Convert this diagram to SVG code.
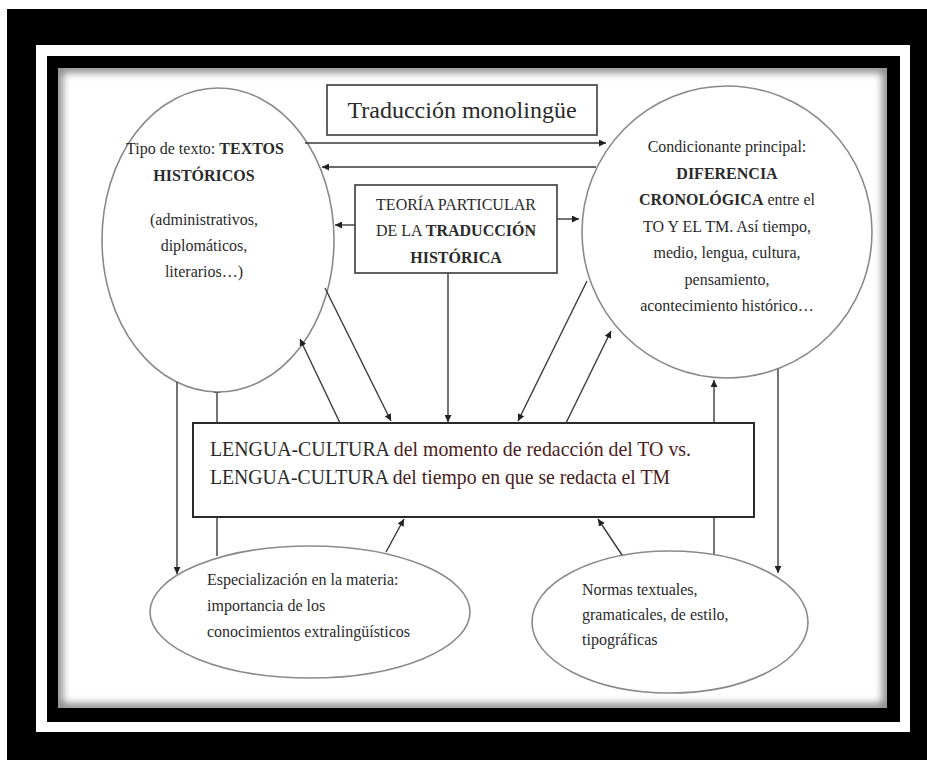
<svg xmlns="http://www.w3.org/2000/svg" width="927" height="760" viewBox="0 0 927 760">
<defs>
<style>
text{font-family:"Liberation Serif","Times New Roman",serif;fill:#2a2a2a}
.c{text-anchor:middle}
.b{font-weight:bold}
.node{fill:#fff;stroke:#8a8a8a;stroke-width:1.6}
.box{fill:#fff;stroke:#3a3a3a;stroke-width:1.6}
.con{stroke:#3a3a3a;stroke-width:1.4;fill:none;marker-end:url(#ah)}
.t16{font-size:16px}
.red{fill:#4a1c1c}
</style>
<marker id="ah" viewBox="0 0 10 10" refX="10" refY="5" markerWidth="7" markerHeight="7" markerUnits="userSpaceOnUse" orient="auto">
<path d="M0,0 L10,5 L0,10 z" fill="#222"/>
</marker>
<clipPath id="inner"><rect x="58" y="68" width="829" height="640"/></clipPath>
<filter id="blur" x="-5%" y="-5%" width="110%" height="110%"><feGaussianBlur stdDeviation="4"/></filter>
</defs>
<g id="frame">
<rect x="0" y="0" width="927" height="760" fill="#fff"/>
<rect x="7" y="9" width="920" height="751" fill="#000"/>
<rect x="36" y="45" width="874" height="687" fill="#fff"/>
<rect x="47" y="56" width="853" height="666" fill="#000"/>
<rect x="58" y="68" width="829" height="640" fill="#fff"/>
<g clip-path="url(#inner)"><rect x="58" y="68" width="829" height="640" fill="none" stroke="#000" stroke-width="8" filter="url(#blur)" opacity="0.55"/></g>
</g>
<g id="connectors-behind">
<line class="con" x1="217" y1="556" x2="217" y2="386"/>
<line class="con" x1="714" y1="554" x2="714" y2="380"/>
</g>
<g id="n-title">
<rect class="box" x="327" y="85" width="270" height="50"/>
<text class="c" x="462" y="118" font-size="24">Traducción monolingüe</text>
</g>
<g id="n-left">
<ellipse class="node" cx="218" cy="240" rx="116" ry="152"/>
<text class="c t16" x="205" y="154">Tipo de texto: <tspan class="b">TEXTOS</tspan></text>
<text class="c t16 b" x="204" y="181">HISTÓRICOS</text>
<text class="c t16" x="204" y="225">(administrativos,</text>
<text class="c t16" x="204" y="251">diplomáticos,</text>
<text class="c t16" x="204" y="277">literarios…)</text>
</g>
<g id="n-right">
<ellipse class="node" cx="727" cy="232" rx="145" ry="146"/>
<text class="c t16" x="727" y="152">Condicionante principal:</text>
<text class="c t16 b" x="727" y="179">DIFERENCIA</text>
<text class="c t16" x="727" y="205"><tspan class="b">CRONOLÓGICA</tspan> entre el</text>
<text class="c t16" x="727" y="232">TO Y EL TM. Así tiempo,</text>
<text class="c t16" x="727" y="258">medio, lengua, cultura,</text>
<text class="c t16" x="727" y="285">pensamiento,</text>
<text class="c t16" x="727" y="311">acontecimiento histórico…</text>
</g>
<g id="n-teoria">
<rect class="box" x="355" y="185" width="202" height="88"/>
<text class="c t16" x="456" y="210">TEORÍA PARTICULAR</text>
<text class="c t16" x="456" y="236">DE LA <tspan class="b">TRADUCCIÓN</tspan></text>
<text class="c t16 b" x="456" y="263">HISTÓRICA</text>
</g>
<g id="n-main">
<rect x="193" y="423" width="561" height="94" fill="#fff" stroke="#2a2a2a" stroke-width="2"/>
<text x="210" y="456" font-size="21" textLength="481" lengthAdjust="spacingAndGlyphs">LENGUA-CULTURA <tspan class="red">del momento de redacción del TO vs.</tspan></text>
<text x="210" y="484" font-size="21" textLength="460" lengthAdjust="spacingAndGlyphs">LENGUA-CULTURA <tspan class="red">del tiempo en que se redacta el TM</tspan></text>
</g>
<g id="n-espec">
<ellipse class="node" cx="310" cy="612" rx="160" ry="66"/>
<text class="t16" x="207" y="585">Especialización en la materia:</text>
<text class="t16" x="207" y="611">importancia de los</text>
<text class="t16" x="207" y="637">conocimientos extralingüísticos</text>
</g>
<g id="n-normas">
<ellipse class="node" cx="670" cy="622" rx="138" ry="71"/>
<text class="t16" x="582" y="595">Normas textuales,</text>
<text class="t16" x="582" y="620">gramaticales, de estilo,</text>
<text class="t16" x="582" y="645">tipográficas</text>
</g>
<g id="connectors">
<line class="con" x1="305" y1="143" x2="606" y2="143"/>
<line class="con" x1="596" y1="167" x2="322" y2="167"/>
<line class="con" x1="355" y1="225" x2="335" y2="225"/>
<line class="con" x1="557" y1="219" x2="579" y2="219"/>
<line class="con" x1="448" y1="273" x2="448" y2="422"/>
<line class="con" x1="325" y1="288" x2="391" y2="421"/>
<line class="con" x1="340" y1="423" x2="300" y2="339"/>
<line class="con" x1="566" y1="423" x2="611" y2="331"/>
<line class="con" x1="587" y1="281" x2="518" y2="421"/>
<line class="con" x1="177" y1="382" x2="177" y2="574"/>
<line class="con" x1="778" y1="369" x2="778" y2="573"/>
<line class="con" x1="386" y1="552" x2="404" y2="519"/>
<line class="con" x1="622" y1="555" x2="598" y2="519"/>
</g>
</svg>
